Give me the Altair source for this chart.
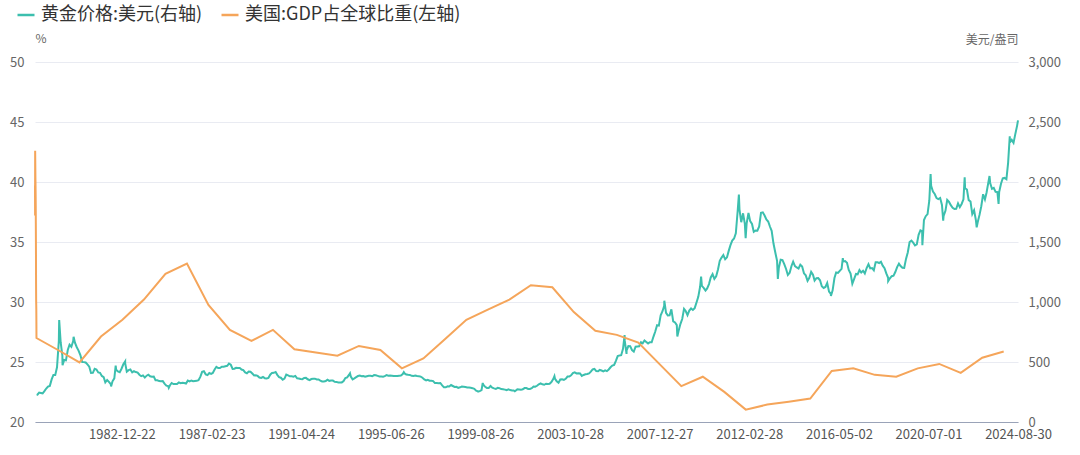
import altair as alt
import pandas as pd

# ---------------- data ----------------
series_names = ["黄金价格:美元(右轴)", "美国:GDP占全球比重(左轴)"]
series_colors = ["#3cbfae", "#f5a55a"]

# US share of world GDP (%), year-end values
gdp_years = list(range(1960, 2024))
gdp_share = [
    39.7, 37.2, 42.6, 41.9, 41.2, 40.4, 40.0, 39.4, 38.8, 38.0,
    36.6, 35.4, 33.9, 31.5, 30.2, 29.8, 29.4, 28.4,
    27.0, 26.0, 24.97, 27.12, 28.52, 30.2, 32.35, 33.2, 29.75, 27.68,
    26.76, 27.68, 26.06, 25.8, 25.53, 26.34, 26.0, 24.47, 25.3, 26.9,
    28.52, 29.36, 30.2, 31.4, 31.23, 29.16, 27.6, 27.26, 26.62, 24.8,
    22.99, 23.77, 22.51, 21.03, 21.45, 21.68, 21.95, 24.25, 24.47, 23.93,
    23.77, 24.47, 24.84, 24.1, 25.36, 25.87,
]

# Gold price (USD/oz), monthly readings
gold_1979_1989 = [
    227, 245, 242, 239, 257, 279, 295, 301, 355, 392, 392, 456,
    675, 665, 554, 517, 514, 600, 644, 627, 674, 661, 623, 595,
    558, 500, 499, 496, 480, 461, 409, 410, 444, 437, 413, 410,
    384, 374, 330, 350, 334, 315, 339, 364, 436, 422, 415, 444,
    481, 491, 420, 432, 438, 413, 423, 416, 412, 394, 382, 388,
    370, 386, 394, 381, 377, 378, 348, 348, 341, 340, 341, 320,
    303, 299, 304, 325, 316, 317, 317, 330, 323, 326, 325, 321,
    345, 339, 346, 340, 342, 343, 348, 376, 418, 423, 397, 391,
    408, 401, 409, 438, 460, 450, 450, 461, 460, 465, 468, 487,
    477, 442, 444, 452, 451, 451, 437, 432, 413, 406, 420, 419,
    404, 388, 390, 384, 371, 367, 375, 365, 362, 367, 394, 409,
]
gold_1990_1999 = [
    410, 417, 393, 374, 369, 352, 362, 395, 389, 381, 381, 378,
    384, 364, 363, 358, 357, 367, 368, 356, 349, 358, 360, 361,
    354, 354, 345, 338, 337, 341, 353, 343, 345, 345, 335, 334,
    329, 330, 330, 342, 367, 372, 392, 379, 355, 364, 374, 383,
    387, 382, 384, 377, 381, 385, 385, 381, 391, 389, 384, 379,
    379, 377, 382, 391, 385, 387, 386, 383, 383, 383, 386, 387,
    400, 405, 396, 393, 392, 385, 383, 387, 383, 381, 378, 369,
    355, 347, 352, 344, 344, 341, 324, 324, 323, 325, 306, 289,
    289, 297, 296, 308, 300, 292, 293, 284, 289, 296, 294, 291,
    287, 288, 286, 282, 277, 261, 256, 257, 265, 311, 293, 284,
]
gold_2000_2009 = [
    284, 300, 286, 280, 275, 285, 282, 274, 273, 270, 266, 272,
    266, 262, 263, 261, 272, 270, 268, 273, 283, 283, 276, 276,
    282, 296, 294, 302, 314, 322, 314, 310, 319, 317, 319, 333,
    357, 359, 340, 328, 355, 356, 351, 360, 379, 379, 389, 407,
    414, 405, 406, 404, 384, 392, 398, 400, 405, 420, 439, 442,
    424, 423, 434, 429, 422, 431, 424, 438, 456, 470, 476, 510,
    549, 555, 557, 610, 676, 596, 633, 632, 598, 586, 627, 629,
    631, 665, 655, 679, 667, 655, 665, 665, 712, 754, 806, 803,
    889, 923, 968, 909, 888, 889, 939, 839, 829, 807, 760, 816,
    858, 943, 925, 890, 928, 946, 934, 949, 996, 1043, 1127, 1134,
]
gold_2010_2024 = [
    1118, 1095, 1113, 1149, 1205, 1232, 1193, 1215, 1271, 1343, 1370, 1391,
    1356, 1372, 1424, 1474, 1512, 1529, 1573, 1756, 1772, 1665, 1739, 1652,
    1656, 1742, 1674, 1650, 1585, 1596, 1594, 1630, 1744, 1747, 1721, 1688,
    1671, 1627, 1593, 1487, 1414, 1343, 1286, 1352, 1349, 1316, 1275, 1225,
    1244, 1300, 1336, 1299, 1288, 1279, 1311, 1296, 1239, 1222, 1176, 1201,
    1251, 1227, 1179, 1198, 1199, 1181, 1131, 1117, 1125, 1159, 1086, 1068,
    1097, 1200, 1246, 1242, 1260, 1276, 1337, 1341, 1326, 1267, 1236, 1152,
    1192, 1234, 1231, 1266, 1246, 1260, 1237, 1283, 1315, 1280, 1283, 1265,
    1331, 1331, 1325, 1335, 1303, 1282, 1238, 1202, 1198, 1215, 1220, 1250,
    1291, 1320, 1300, 1285, 1284, 1359, 1413, 1500, 1511, 1495, 1471, 1480,
    1560, 1597, 1591, 1683, 1715, 1732, 1846, 1968, 1921, 1900, 1866, 1858,
    1867, 1808, 1718, 1760, 1850, 1834, 1807, 1785, 1776, 1777, 1821, 1790,
    1817, 1856, 1948, 1937, 1849, 1837, 1733, 1765, 1681, 1665, 1726, 1798,
    1898, 1855, 1913, 1999, 1992, 1943, 1951, 1918, 1916, 1916, 1985, 2031,
    2034, 2023, 2160, 2331, 2351, 2326, 2399, 2470,
]
# notable daily highs / lows visible in the picture
gold_spike_dates = [
    "1979-01-02", "1980-01-21", "1980-03-18", "1980-09-22", "1982-06-21",
    "1982-09-07", "1983-02-15", "1985-02-25", "1993-08-02", "1996-02-02",
    "1999-07-20", "1999-10-05", "2001-04-02", "2003-02-05", "2006-05-12",
    "2006-06-14", "2008-03-17", "2008-10-24", "2009-12-02", "2011-09-05",
    "2011-12-29", "2013-06-28", "2015-12-17", "2016-07-06", "2018-08-16",
    "2020-03-19", "2020-08-06", "2021-03-08", "2022-03-08", "2022-09-28",
    "2023-05-04", "2023-10-05", "2024-04-12", "2024-08-30",
]
gold_spike_values = [
    226, 850, 474, 710, 297,
    470, 505, 285, 406, 415,
    253, 325, 256, 382, 725,
    567, 1011, 712, 1212, 1895,
    1531, 1192, 1050, 1366, 1174,
    1474, 2067, 1677, 2039, 1622,
    2050, 1818, 2380, 2513,
]

x_tick_dates = [
    "1982-12-22", "1987-02-23", "1991-04-24", "1995-06-26", "1999-08-26",
    "2003-10-28", "2007-12-27", "2012-02-28", "2016-05-02", "2020-07-01",
    "2024-08-30",
]
left_ticks = [20, 25, 30, 35, 40, 45, 50]
right_ticks = [0, 500, 1000, 1500, 2000, 2500, 3000]

# ---------------- tables ----------------
gold_monthly = gold_1979_1989 + gold_1990_1999 + gold_2000_2009 + gold_2010_2024
gold_rows = []
for i, v in enumerate(gold_monthly):
    y = 1979 + i // 12
    m = i % 12 + 1
    gold_rows.append({"date": f"{y}-{m:02d}-15", "value": v})
for d, v in zip(gold_spike_dates, gold_spike_values):
    gold_rows.append({"date": d, "value": v})
gold_df = pd.DataFrame(gold_rows).sort_values("date").reset_index(drop=True)
gold_df["series"] = series_names[0]

gdp_df = pd.DataFrame({
    "date": [f"{y}-12-31" for y in gdp_years],
    "value": gdp_share,
})
gdp_df["series"] = series_names[1]


def ms(s):
    return int(pd.Timestamp(s, tz="UTC").value // 10**6)


FONT = "Noto Sans CJK SC"
W, H = 983, 360

# Like the source's category axis, the annual points before 1979 take only
# the first pixel or so: their position is squeezed toward 1978-12-31.
T_BREAK = ms("1978-12-31")
SQUEEZE = 0.0038
squeeze_expr = (
    f"time(toDate(datum.date)) < {T_BREAK} ? "
    f"{T_BREAK} - ({T_BREAK} - time(toDate(datum.date))) * {SQUEEZE} : "
    f"time(toDate(datum.date))"
)
x_start = T_BREAK - (T_BREAK - ms("1960-12-31")) * SQUEEZE
x_end = ms("2024-08-30")

x_scale = alt.Scale(type="utc", domain=[x_start, x_end], nice=False)
x_axis = alt.Axis(
    values=[ms(s) for s in x_tick_dates],
    format="%Y-%m-%d",
    title=None,
    grid=False,
    ticks=False,
    domain=True,
    domainColor="#9aa3b8",
    domainWidth=1,
    labelFontSize=13,
    labelColor="#555555",
    labelFont=FONT,
    labelPadding=6,
    labelAngle=0,
    labelOverlap=False,
    labelFlush=False,
)

color_scale = alt.Scale(domain=series_names, range=series_colors)
legend = alt.Legend(
    orient="none",
    legendX=-19,
    legendY=-57,
    direction="horizontal",
    title=None,
    symbolType="stroke",
    symbolSize=289,
    symbolStrokeWidth=2.5,
    labelFontSize=18,
    labelFont=FONT,
    labelColor="#333333",
    labelOffset=5,
    columnPadding=13,
    padding=0,
    labelLimit=400,
)

gold_chart = alt.Chart(gold_df).transform_calculate(
    xdate=squeeze_expr
).mark_line(strokeWidth=2).encode(
    x=alt.X("xdate:T", scale=x_scale, axis=x_axis),
    y=alt.Y(
        "value:Q",
        scale=alt.Scale(domain=[0, 3000], nice=False),
        axis=alt.Axis(
            orient="right",
            values=right_ticks,
            format=",d",
            title="美元/盎司",
            titleAngle=0,
            titleAlign="right",
            titleBaseline="middle",
            titleX=0,
            titleY=-23,
            titleFontSize=12,
            titleFontWeight="normal",
            titleColor="#666666",
            titleFont=FONT,
            grid=False,
            ticks=False,
            domain=False,
            labelPadding=10,
            labelFontSize=13,
            labelColor="#666666",
            labelFont=FONT,
        ),
    ),
    color=alt.Color("series:N", scale=color_scale, legend=legend),
)

gdp_chart = alt.Chart(gdp_df).transform_calculate(
    xdate=squeeze_expr
).mark_line(strokeWidth=2).encode(
    x=alt.X("xdate:T", scale=x_scale, axis=x_axis),
    y=alt.Y(
        "value:Q",
        scale=alt.Scale(domain=[20, 50], nice=False, zero=False),
        axis=alt.Axis(
            orient="left",
            values=left_ticks,
            title="%",
            titleAngle=0,
            titleAlign="left",
            titleBaseline="middle",
            titleX=0,
            titleY=-24,
            titleFontSize=12,
            titleFontWeight="normal",
            titleColor="#666666",
            titleFont=FONT,
            grid=True,
            gridColor="#e9ebf2",
            gridWidth=1,
            ticks=False,
            domain=False,
            labelPadding=11,
            labelFontSize=13,
            labelColor="#666666",
            labelFont=FONT,
        ),
    ),
    color=alt.Color("series:N", scale=color_scale, legend=legend),
)

chart = (
    alt.layer(gold_chart, gdp_chart)
    .resolve_scale(y="independent")
    .properties(
        width=W,
        height=H,
        autosize=alt.AutoSizeParams(type="none"),
        padding={"left": 35, "top": 62, "right": 62, "bottom": 33},
        background="white",
    )
    .configure_view(stroke=None)
)

chart.save("out.html", embed_options={"renderer": "svg", "actions": False})
